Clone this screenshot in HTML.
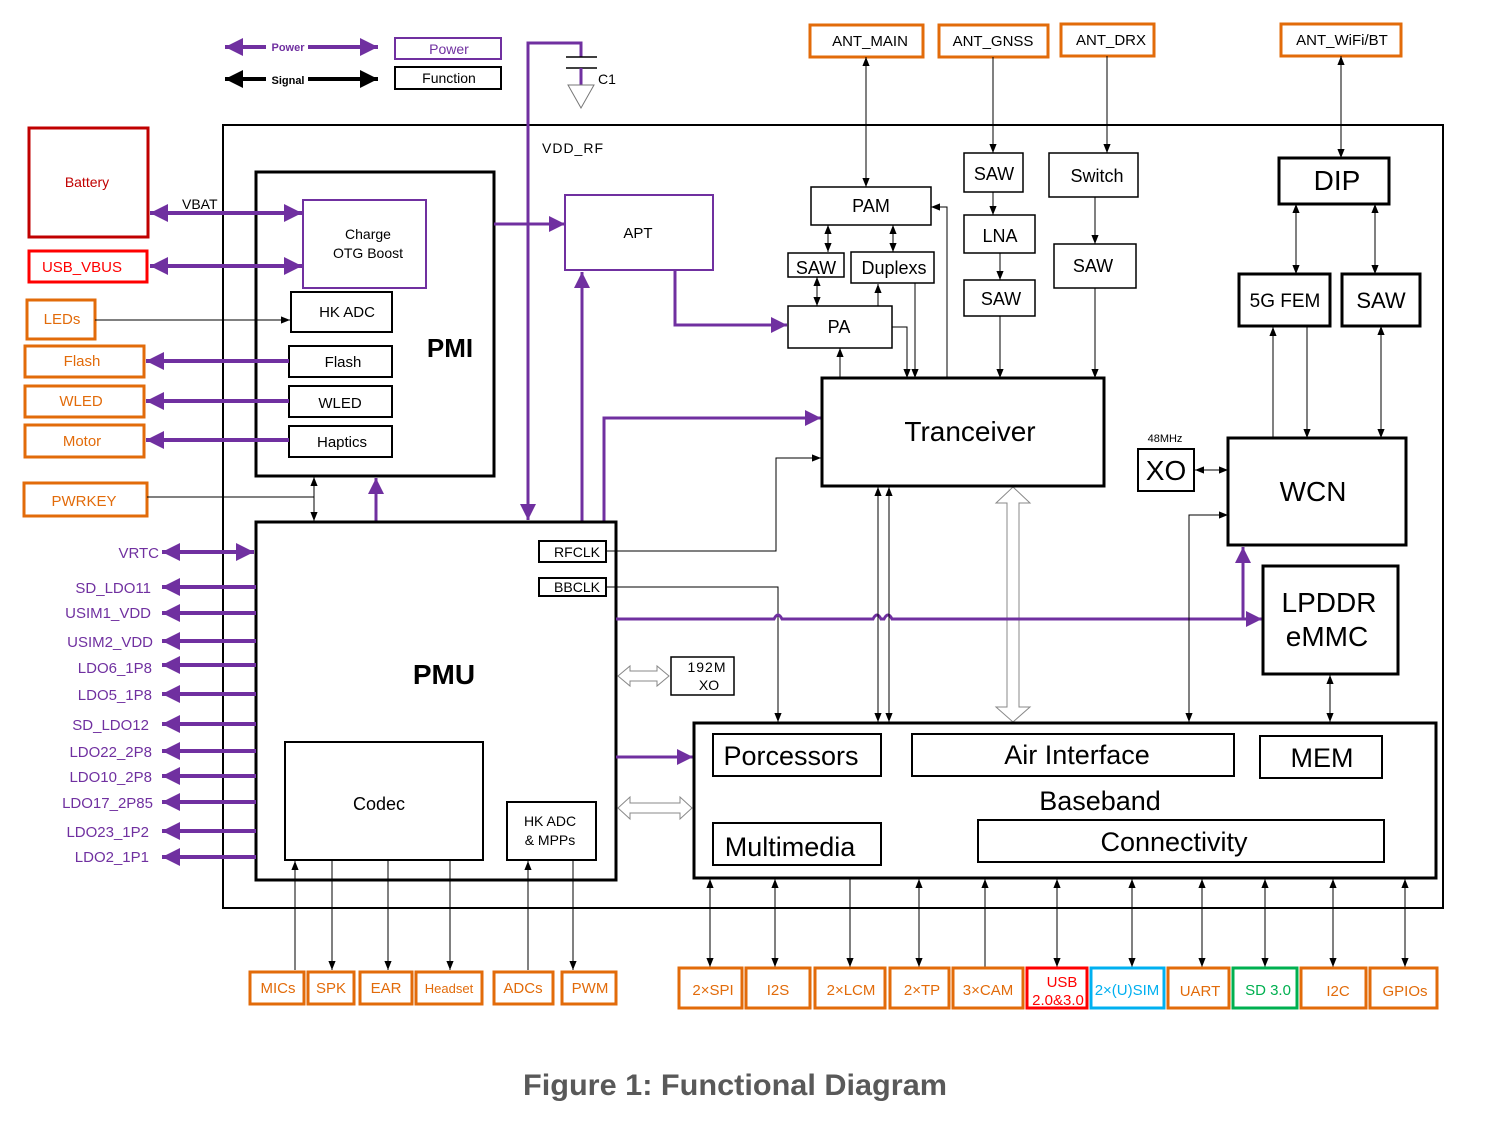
<!DOCTYPE html>
<html><head><meta charset="utf-8"><style>
html,body{margin:0;padding:0;background:#fff}
svg{display:block}
text{font-family:"Liberation Sans",sans-serif}
</style></head><body>
<svg width="1490" height="1121" viewBox="0 0 1490 1121" xmlns="http://www.w3.org/2000/svg">
<defs>
<marker id="a" viewBox="0 0 10 10" refX="10" refY="5" markerWidth="9" markerHeight="9" markerUnits="userSpaceOnUse" orient="auto-start-reverse"><path d="M0,1 L10,5 L0,9 z" fill="#000"/></marker>
<marker id="p" viewBox="0 0 10 10" refX="10" refY="5" markerWidth="16" markerHeight="16" markerUnits="userSpaceOnUse" orient="auto-start-reverse"><path d="M0,0 L10,5 L0,10 z" fill="#7030a0"/></marker>
<marker id="pb" viewBox="0 0 10 10" refX="10" refY="5" markerWidth="22" markerHeight="18" markerUnits="userSpaceOnUse" orient="auto-start-reverse"><path d="M0,0 L10,5 L0,10 z" fill="#7030a0"/></marker>
<marker id="k" viewBox="0 0 10 10" refX="10" refY="5" markerWidth="22" markerHeight="18" markerUnits="userSpaceOnUse" orient="auto-start-reverse"><path d="M0,0 L10,5 L0,10 z" fill="#000"/></marker>
</defs>
<rect width="1490" height="1121" fill="#fff"/>

<!-- legend -->
<g stroke="#7030a0" stroke-width="4" fill="none">
<line x1="225" y1="47" x2="378" y2="47" marker-start="url(#pb)" marker-end="url(#pb)"/>
</g>
<rect x="266" y="41" width="42" height="12" fill="#fff"/>
<text x="288" y="51" font-size="11" font-weight="bold" fill="#7030a0" text-anchor="middle">Power</text>
<line x1="225" y1="79" x2="378" y2="79" stroke="#000" stroke-width="4" marker-start="url(#k)" marker-end="url(#k)"/>
<rect x="266" y="73" width="42" height="12" fill="#fff"/>
<text x="288" y="84" font-size="11" font-weight="bold" fill="#000" text-anchor="middle">Signal</text>
<rect x="395" y="38" width="106" height="21" fill="#fff" stroke="#7030a0" stroke-width="2"/>
<text x="449" y="54" font-size="14" fill="#7030a0" text-anchor="middle">Power</text>
<rect x="395" y="67" width="106" height="22" fill="#fff" stroke="#000" stroke-width="2"/>
<text x="449" y="83" font-size="14" text-anchor="middle">Function</text>

<!-- outer box -->
<rect x="223" y="125" width="1220" height="783" fill="none" stroke="#000" stroke-width="2"/>

<!-- VDD_RF / C1 -->
<polyline points="528,520 528,43 581,43 581,57" fill="none" stroke="#7030a0" stroke-width="3" marker-start="url(#p)"/>
<line x1="566" y1="57" x2="597" y2="57" stroke="#000" stroke-width="1.5"/>
<line x1="566" y1="68" x2="597" y2="68" stroke="#000" stroke-width="1.5"/>
<line x1="581" y1="68" x2="581" y2="85" stroke="#7030a0" stroke-width="3"/>
<path d="M568,85 L594,85 L581,108 z" fill="#fff" stroke="#777" stroke-width="1"/>
<text x="598" y="84" font-size="14">C1</text>
<text x="542" y="153" font-size="14" letter-spacing="1">VDD_RF</text>

<!-- Battery etc -->
<rect x="29" y="128" width="119" height="109" fill="#fff" stroke="#c00000" stroke-width="3"/>
<text x="87" y="187" font-size="14" fill="#c00000" text-anchor="middle">Battery</text>
<rect x="29" y="251" width="118" height="31" fill="#fff" stroke="#ff0000" stroke-width="3"/>
<text x="82" y="272" font-size="15" fill="#ff0000" text-anchor="middle">USB_VBUS</text>
<text x="182" y="209" font-size="14">VBAT</text>

<!-- PMI -->
<rect x="256" y="172" width="238" height="304" fill="none" stroke="#000" stroke-width="3"/>
<text x="450" y="357" font-size="26" font-weight="bold" text-anchor="middle">PMI</text>
<rect x="303" y="200" width="123" height="88" fill="#fff" stroke="#7030a0" stroke-width="2"/>
<text x="368" y="239" font-size="14" text-anchor="middle">Charge</text>
<text x="368" y="258" font-size="14" text-anchor="middle">OTG  Boost</text>
<g stroke="#7030a0" stroke-width="4" fill="none">
<line x1="150" y1="213" x2="302" y2="213" marker-start="url(#pb)" marker-end="url(#pb)"/>
<line x1="150" y1="266" x2="302" y2="266" marker-start="url(#pb)" marker-end="url(#pb)"/>
</g>
<rect x="291" y="292" width="101" height="40" fill="#fff" stroke="#000" stroke-width="2"/>
<text x="347" y="317" font-size="15" text-anchor="middle">HK ADC</text>
<rect x="27" y="300" width="68" height="39" fill="#fff" stroke="#e26b0a" stroke-width="3"/>
<text x="62" y="324" font-size="15" fill="#e26b0a" text-anchor="middle">LEDs</text>
<line x1="95" y1="320" x2="290" y2="320" stroke="#000" stroke-width="1" marker-end="url(#a)"/>

<g font-size="15" text-anchor="middle">
<rect x="289" y="346" width="103" height="31" fill="#fff" stroke="#000" stroke-width="2"/><text x="343" y="367">Flash</text>
<rect x="289" y="386" width="103" height="31" fill="#fff" stroke="#000" stroke-width="2"/><text x="340" y="408">WLED</text>
<rect x="289" y="426" width="103" height="31" fill="#fff" stroke="#000" stroke-width="2"/><text x="342" y="447">Haptics</text>
</g>
<g stroke="#e26b0a" stroke-width="3" fill="#fff">
<rect x="25" y="346" width="119" height="31"/>
<rect x="25" y="386" width="119" height="31"/>
<rect x="25" y="425" width="119" height="32"/>
<rect x="24" y="483" width="123" height="33"/>
</g>
<g font-size="15" fill="#e26b0a" text-anchor="middle">
<text x="82" y="366">Flash</text><text x="81" y="406">WLED</text><text x="82" y="446">Motor</text><text x="84" y="506">PWRKEY</text>
</g>
<g stroke="#7030a0" stroke-width="4">
<line x1="289" y1="361" x2="146" y2="361" marker-end="url(#pb)"/>
<line x1="289" y1="401" x2="146" y2="401" marker-end="url(#pb)"/>
<line x1="289" y1="440" x2="146" y2="440" marker-end="url(#pb)"/>
</g>
<polyline points="147,497 314,497" fill="none" stroke="#000" stroke-width="1"/>
<line x1="314" y1="477" x2="314" y2="521" stroke="#000" stroke-width="1" marker-start="url(#a)" marker-end="url(#a)"/>
<line x1="376" y1="521" x2="376" y2="478" stroke="#7030a0" stroke-width="3" marker-end="url(#p)"/>

<!-- APT -->
<line x1="494" y1="224" x2="565" y2="224" stroke="#7030a0" stroke-width="3" marker-end="url(#p)"/>
<rect x="565" y="195" width="148" height="75" fill="#fff" stroke="#7030a0" stroke-width="2"/>
<text x="638" y="238" font-size="15" text-anchor="middle">APT</text>
<polyline points="675,270 675,325 787,325" fill="none" stroke="#7030a0" stroke-width="3" marker-end="url(#p)"/>
<line x1="582" y1="521" x2="582" y2="272" stroke="#7030a0" stroke-width="3" marker-end="url(#p)"/>
<polyline points="604,521 604,418 821,418" fill="none" stroke="#7030a0" stroke-width="3" marker-end="url(#p)"/>

<!-- PMU -->
<rect x="256" y="522" width="360" height="358" fill="#fff" stroke="#000" stroke-width="3"/>
<text x="444" y="684" font-size="28" font-weight="bold" text-anchor="middle">PMU</text>
<rect x="539" y="541" width="67" height="21" fill="#fff" stroke="#000" stroke-width="2"/>
<text x="577" y="557" font-size="14" text-anchor="middle">RFCLK</text>
<rect x="539" y="578" width="67" height="18" fill="#fff" stroke="#000" stroke-width="2"/>
<text x="577" y="592" font-size="14" text-anchor="middle">BBCLK</text>
<polyline points="606,551 776,551 776,458 821,458" fill="none" stroke="#000" stroke-width="1" marker-end="url(#a)"/>
<polyline points="606,587 778,587 778,722" fill="none" stroke="#000" stroke-width="1" marker-end="url(#a)"/>

<!-- left LDO -->
<line x1="162" y1="552" x2="254" y2="552" stroke="#7030a0" stroke-width="4" marker-start="url(#pb)" marker-end="url(#pb)"/>
<g stroke="#7030a0" stroke-width="4">
<line x1="256" y1="587" x2="162" y2="587" marker-end="url(#pb)"/>
<line x1="256" y1="613" x2="162" y2="613" marker-end="url(#pb)"/>
<line x1="256" y1="641" x2="162" y2="641" marker-end="url(#pb)"/>
<line x1="256" y1="665" x2="162" y2="665" marker-end="url(#pb)"/>
<line x1="256" y1="694" x2="162" y2="694" marker-end="url(#pb)"/>
<line x1="256" y1="724" x2="162" y2="724" marker-end="url(#pb)"/>
<line x1="256" y1="751" x2="162" y2="751" marker-end="url(#pb)"/>
<line x1="256" y1="776" x2="162" y2="776" marker-end="url(#pb)"/>
<line x1="256" y1="802" x2="162" y2="802" marker-end="url(#pb)"/>
<line x1="256" y1="831" x2="162" y2="831" marker-end="url(#pb)"/>
<line x1="256" y1="857" x2="162" y2="857" marker-end="url(#pb)"/>
</g>
<g font-size="15" fill="#7030a0" text-anchor="end">
<text x="159" y="558">VRTC</text>
<text x="151" y="593">SD_LDO11</text>
<text x="151" y="618">USIM1_VDD</text>
<text x="153" y="647">USIM2_VDD</text>
<text x="152" y="673">LDO6_1P8</text>
<text x="152" y="700">LDO5_1P8</text>
<text x="149" y="730">SD_LDO12</text>
<text x="152" y="757">LDO22_2P8</text>
<text x="152" y="782">LDO10_2P8</text>
<text x="153" y="808">LDO17_2P85</text>
<text x="149" y="837">LDO23_1P2</text>
<text x="149" y="862">LDO2_1P1</text>
</g>

<rect x="285" y="742" width="198" height="118" fill="#fff" stroke="#000" stroke-width="2"/>
<text x="379" y="810" font-size="18" text-anchor="middle">Codec</text>
<rect x="507" y="802" width="89" height="58" fill="#fff" stroke="#000" stroke-width="2"/>
<text x="550" y="826" font-size="14" text-anchor="middle">HK ADC</text>
<text x="550" y="845" font-size="14" text-anchor="middle">&amp; MPPs</text>

<g stroke="#000" stroke-width="1">
<line x1="295" y1="970" x2="295" y2="861" marker-end="url(#a)"/>
<line x1="332" y1="860" x2="332" y2="970" marker-end="url(#a)"/>
<line x1="388" y1="860" x2="388" y2="970" marker-end="url(#a)"/>
<line x1="450" y1="860" x2="450" y2="970" marker-end="url(#a)"/>
<line x1="528" y1="970" x2="528" y2="861" marker-end="url(#a)"/>
<line x1="573" y1="860" x2="573" y2="970" marker-end="url(#a)"/>
</g>
<g stroke="#e26b0a" stroke-width="3" fill="#fff">
<rect x="250" y="972" width="54" height="32"/><rect x="308" y="972" width="46" height="32"/>
<rect x="360" y="972" width="52" height="32"/><rect x="416" y="972" width="66" height="32"/>
<rect x="494" y="972" width="59" height="32"/><rect x="562" y="972" width="54" height="32"/>
</g>
<g font-size="15" fill="#e26b0a" text-anchor="middle">
<text x="278" y="993">MICs</text><text x="331" y="993">SPK</text><text x="386" y="993">EAR</text>
<text x="449" y="993" font-size="13">Headset</text><text x="523" y="993">ADCs</text><text x="590" y="993">PWM</text>
</g>

<!-- hollow arrows -->
<path d="M618,676 L630,666 L630,671 L657,671 L657,666 L669,676 L657,686 L657,681 L630,681 L630,686 z" fill="#fff" stroke="#888" stroke-width="1"/>
<path d="M618,808 L630,797 L630,803 L680,803 L680,797 L692,808 L680,819 L680,813 L630,813 L630,819 z" fill="#fff" stroke="#888" stroke-width="1"/>
<path d="M1013,487 L1030,503 L1019,503 L1019,707 L1030,707 L1013,722 L996,707 L1007,707 L1007,503 L996,503 z" fill="#fff" stroke="#888" stroke-width="1"/>
<rect x="671" y="657" width="63" height="38" fill="#fff" stroke="#000" stroke-width="1.5"/>
<text x="707" y="672" font-size="14" text-anchor="middle" letter-spacing="1">192M</text>
<text x="709" y="690" font-size="14" text-anchor="middle">XO</text>
<line x1="616" y1="757" x2="693" y2="757" stroke="#7030a0" stroke-width="3" marker-end="url(#p)"/>

<!-- purple bus y619 with hops -->
<path d="M616,619 L774,619 Q778,611 782,619 L873,619 Q877,611 881,619 L884,619 Q888,611 892,619 L1262,619" fill="none" stroke="#7030a0" stroke-width="3" marker-end="url(#p)"/>
<line x1="1243" y1="619" x2="1243" y2="547" stroke="#7030a0" stroke-width="3" marker-end="url(#p)"/>

<!-- antennas -->
<g stroke="#e26b0a" stroke-width="3" fill="#fff">
<rect x="810" y="25" width="113" height="32"/><rect x="939" y="25" width="109" height="32"/>
<rect x="1061" y="24" width="93" height="32"/><rect x="1281" y="24" width="120" height="32"/>
</g>
<g font-size="15" text-anchor="middle">
<text x="870" y="46">ANT_MAIN</text><text x="993" y="46">ANT_GNSS</text><text x="1111" y="45">ANT_DRX</text><text x="1342" y="45">ANT_WiFi/BT</text>
</g>

<!-- RF chain -->
<g stroke="#000" stroke-width="1" fill="none">
<line x1="866" y1="57" x2="866" y2="187" marker-start="url(#a)" marker-end="url(#a)"/>
<line x1="993" y1="57" x2="993" y2="153" marker-end="url(#a)"/>
<line x1="993" y1="192" x2="993" y2="215" marker-end="url(#a)"/>
<line x1="1000" y1="253" x2="1000" y2="280" marker-end="url(#a)"/>
<line x1="1000" y1="316" x2="1000" y2="378" marker-end="url(#a)"/>
<line x1="1107" y1="56" x2="1107" y2="153" marker-end="url(#a)"/>
<line x1="1095" y1="197" x2="1095" y2="244" marker-end="url(#a)"/>
<line x1="1095" y1="288" x2="1095" y2="378" marker-end="url(#a)"/>
<line x1="828" y1="225" x2="828" y2="252" marker-start="url(#a)" marker-end="url(#a)"/>
<line x1="893" y1="225" x2="893" y2="252" marker-start="url(#a)" marker-end="url(#a)"/>
<line x1="817" y1="277" x2="817" y2="306" marker-start="url(#a)" marker-end="url(#a)"/>
<line x1="878" y1="306" x2="878" y2="284" marker-end="url(#a)"/>
<polyline points="892,327 907,327 907,378" marker-end="url(#a)"/>
<line x1="915" y1="283" x2="915" y2="378" marker-end="url(#a)"/>
<polyline points="947,378 947,207 931,207" marker-end="url(#a)"/>
<line x1="840" y1="378" x2="840" y2="348" marker-end="url(#a)"/>
<line x1="1341" y1="56" x2="1341" y2="158" marker-start="url(#a)" marker-end="url(#a)"/>
<line x1="1296" y1="204" x2="1296" y2="274" marker-start="url(#a)" marker-end="url(#a)"/>
<line x1="1375" y1="204" x2="1375" y2="274" marker-start="url(#a)" marker-end="url(#a)"/>
<line x1="1273" y1="438" x2="1273" y2="327" marker-end="url(#a)"/>
<line x1="1307" y1="326" x2="1307" y2="438" marker-end="url(#a)"/>
<line x1="1381" y1="326" x2="1381" y2="438" marker-start="url(#a)" marker-end="url(#a)"/>
<line x1="1195" y1="470" x2="1228" y2="470" marker-start="url(#a)" marker-end="url(#a)"/>
<polyline points="1189,722 1189,515 1228,515" marker-start="url(#a)" marker-end="url(#a)"/>
<line x1="1330" y1="675" x2="1330" y2="722" marker-start="url(#a)" marker-end="url(#a)"/>
<line x1="878" y1="487" x2="878" y2="722" marker-start="url(#a)" marker-end="url(#a)"/>
<line x1="889" y1="487" x2="889" y2="722" marker-start="url(#a)" marker-end="url(#a)"/>
</g>

<g stroke="#000" stroke-width="1.5" fill="#fff">
<rect x="811" y="187" width="120" height="38"/>
<rect x="788" y="253" width="56" height="24"/>
<rect x="851" y="252" width="83" height="31"/>
<rect x="788" y="306" width="104" height="42"/>
<rect x="964" y="153" width="59" height="39"/>
<rect x="964" y="215" width="71" height="38"/>
<rect x="964" y="280" width="71" height="36"/>
<rect x="1049" y="153" width="89" height="44"/>
<rect x="1054" y="244" width="82" height="44"/>
</g>
<g font-size="18" text-anchor="middle">
<text x="871" y="212">PAM</text><text x="816" y="274">SAW</text><text x="894" y="274">Duplexs</text>
<text x="839" y="333">PA</text><text x="994" y="180">SAW</text><text x="1000" y="242">LNA</text>
<text x="1001" y="305">SAW</text><text x="1097" y="182">Switch</text><text x="1093" y="272">SAW</text>
</g>

<g stroke="#000" stroke-width="3" fill="#fff">
<rect x="822" y="378" width="282" height="108"/>
<rect x="1279" y="158" width="110" height="46"/>
<rect x="1239" y="274" width="91" height="52"/>
<rect x="1342" y="274" width="78" height="52"/>
<rect x="1228" y="438" width="178" height="107"/>
<rect x="1263" y="566" width="135" height="108"/>
<rect x="694" y="723" width="742" height="155"/>
</g>
<rect x="1138" y="449" width="56" height="42" fill="#fff" stroke="#000" stroke-width="2"/>
<text x="970" y="441" font-size="28" text-anchor="middle">Tranceiver</text>
<text x="1337" y="190" font-size="28" text-anchor="middle">DIP</text>
<text x="1285" y="307" font-size="19" text-anchor="middle">5G FEM</text>
<text x="1381" y="308" font-size="22" text-anchor="middle">SAW</text>
<text x="1313" y="501" font-size="28" text-anchor="middle">WCN</text>
<text x="1166" y="480" font-size="28" text-anchor="middle">XO</text>
<text x="1165" y="442" font-size="11" text-anchor="middle">48MHz</text>
<text x="1329" y="612" font-size="28" text-anchor="middle">LPDDR</text>
<text x="1327" y="646" font-size="28" text-anchor="middle">eMMC</text>

<!-- baseband -->
<g stroke="#000" stroke-width="2" fill="#fff">
<rect x="713" y="734" width="168" height="42"/>
<rect x="912" y="734" width="322" height="42"/>
<rect x="1260" y="736" width="122" height="42"/>
<rect x="713" y="823" width="168" height="42"/>
<rect x="978" y="820" width="406" height="42"/>
</g>
<g font-size="27" text-anchor="middle">
<text x="791" y="765">Porcessors</text><text x="1077" y="764">Air Interface</text><text x="1322" y="767">MEM</text>
<text x="1100" y="810">Baseband</text><text x="790" y="856">Multimedia</text><text x="1174" y="851">Connectivity</text>
</g>

<!-- bottom interfaces -->
<g stroke="#000" stroke-width="1">
<line x1="710" y1="879" x2="710" y2="967" marker-start="url(#a)" marker-end="url(#a)"/>
<line x1="775" y1="879" x2="775" y2="967" marker-start="url(#a)" marker-end="url(#a)"/>
<line x1="850" y1="879" x2="850" y2="967" marker-end="url(#a)"/>
<line x1="919" y1="879" x2="919" y2="967" marker-start="url(#a)" marker-end="url(#a)"/>
<line x1="985" y1="967" x2="985" y2="879" marker-end="url(#a)"/>
<line x1="1057" y1="879" x2="1057" y2="967" marker-start="url(#a)" marker-end="url(#a)"/>
<line x1="1132" y1="879" x2="1132" y2="967" marker-start="url(#a)" marker-end="url(#a)"/>
<line x1="1202" y1="879" x2="1202" y2="967" marker-start="url(#a)" marker-end="url(#a)"/>
<line x1="1265" y1="879" x2="1265" y2="967" marker-start="url(#a)" marker-end="url(#a)"/>
<line x1="1333" y1="879" x2="1333" y2="967" marker-start="url(#a)" marker-end="url(#a)"/>
<line x1="1405" y1="879" x2="1405" y2="967" marker-start="url(#a)" marker-end="url(#a)"/>
</g>
<g stroke-width="3" fill="#fff">
<rect x="679" y="968" width="63" height="40" stroke="#e26b0a"/>
<rect x="746" y="968" width="64" height="40" stroke="#e26b0a"/>
<rect x="815" y="968" width="70" height="40" stroke="#e26b0a"/>
<rect x="890" y="968" width="59" height="40" stroke="#e26b0a"/>
<rect x="953" y="968" width="70" height="40" stroke="#e26b0a"/>
<rect x="1027" y="968" width="60" height="40" stroke="#ff0000"/>
<rect x="1091" y="968" width="73" height="40" stroke="#00b0f0"/>
<rect x="1168" y="968" width="61" height="40" stroke="#e26b0a"/>
<rect x="1233" y="968" width="64" height="40" stroke="#00b050"/>
<rect x="1301" y="968" width="65" height="40" stroke="#e26b0a"/>
<rect x="1370" y="968" width="67" height="40" stroke="#e26b0a"/>
</g>
<g font-size="15" fill="#e26b0a" text-anchor="middle">
<text x="713" y="995">2×SPI</text><text x="778" y="995">I2S</text><text x="851" y="995">2×LCM</text>
<text x="922" y="995">2×TP</text><text x="988" y="995">3×CAM</text>
<text x="1062" y="987" fill="#ff0000">USB</text><text x="1058" y="1005" fill="#ff0000">2.0&amp;3.0</text>
<text x="1127" y="995" fill="#00b0f0">2×(U)SIM</text><text x="1200" y="996">UART</text>
<text x="1268" y="995" fill="#00b050">SD 3.0</text><text x="1338" y="996">I2C</text><text x="1405" y="996">GPIOs</text>
</g>

<text x="735" y="1095" font-size="30" font-weight="bold" fill="#595959" text-anchor="middle" textLength="424" lengthAdjust="spacingAndGlyphs">Figure 1: Functional Diagram</text>
</svg>
</body></html>
